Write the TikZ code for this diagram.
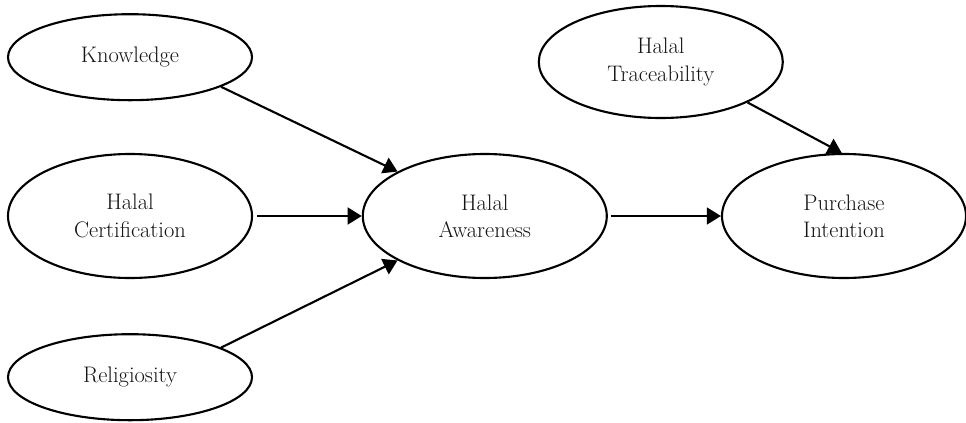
\documentclass[tikz,border=0pt]{standalone}
\usepackage{fontspec}
\usepackage{tikz}
\usetikzlibrary{shapes}
\usetikzlibrary{arrows.meta}

\begin{document}
\begin{tikzpicture}[construct/.style={ellipse, draw, line width=1.5pt, inner sep=0pt, minimum width=6.1cm, align=center, font=\fontsize{16}{19.5}\selectfont, text=black!92},
	link/.style={line width=1.5pt, -{Triangle[length=10pt,width=12pt]}}]
			\useasboundingbox (0,0) rectangle (24.15,10.55);
			\node[construct, minimum height=2.15cm] (K) at (3.25,9.12) {Knowledge};
			\node[construct, minimum height=3.1cm] (C) at (3.25,5.15) {Halal\\Certification};
			\node[construct, minimum height=2.15cm] (R) at (3.25,1.12) {Religiosity};
			\node[construct, minimum height=3.1cm] (A) at (12.12,5.15) {Halal\\Awareness};
			\node[construct, minimum height=2.8cm] (T) at (16.52,9.0) {Halal\\Traceability};
			\node[construct, minimum height=3.1cm] (P) at (21.1,5.15) {Purchase\\Intention};
			
			
			\draw[link] (K.-18) -- (A.153);
			\draw[link, shorten <=3pt] (C.east) -- (A.west);
			\draw[link] (R.18) -- (A.207);
			
			\draw[link, shorten <=2pt] (A.east) -- (P.west);
			\draw[link] (T.-25) -- (P.92);
		\end{tikzpicture}
\end{document}
